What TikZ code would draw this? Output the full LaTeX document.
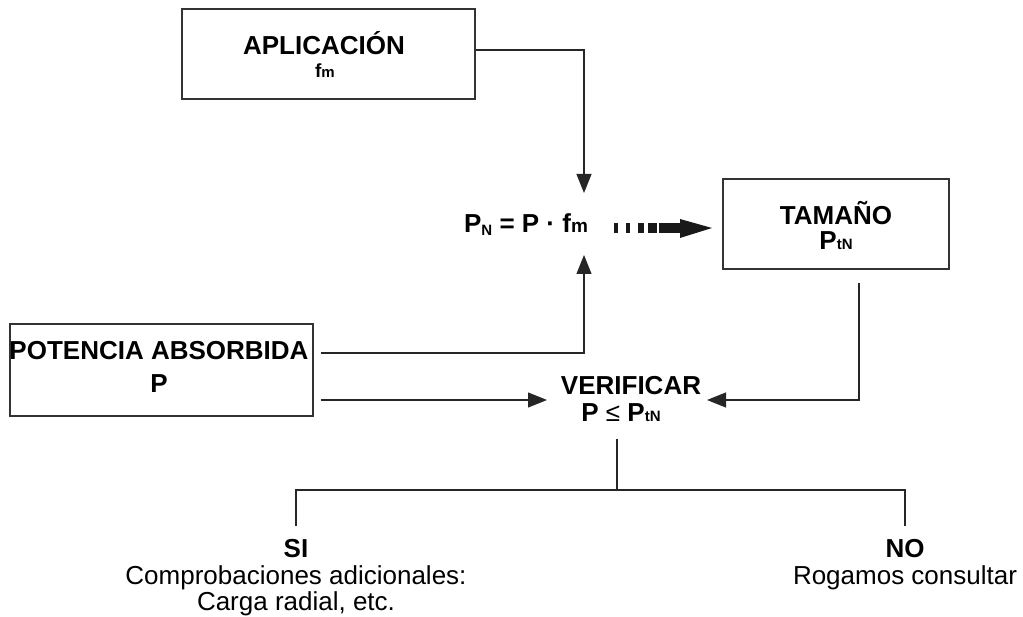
\documentclass[tikz,border=0pt]{standalone}
\usepackage{fontspec}
\setmainfont{Liberation Sans}
\usetikzlibrary{arrows.meta}
\begin{document}
\begin{tikzpicture}[x=1pt,y=-1pt,
  box/.style={draw=black!80, line width=1.3pt, inner sep=0pt},
  conn/.style={draw=black!85, line width=1.1pt},
  tip/.style={-{Triangle[length=19pt,width=15pt]}},
  lbl/.style={inner sep=0pt, outer sep=0pt, anchor=base},
  hd/.style={font=\bfseries\fontsize{26}{26}\selectfont},
  tx/.style={font=\fontsize{26}{26}\selectfont},
  bigarrow/.style={fill=black!90, draw=none},
]
\useasboundingbox (0,0) rectangle (1023,617);

% boxes
\node[box, minimum width=293pt, minimum height=90pt] (app) at (328.5,54) {};
\node[box, minimum width=226pt, minimum height=90pt] (tam) at (836,224) {};
\node[box, minimum width=303pt, minimum height=92pt] (pot) at (161.5,370) {};

% box texts
\node[lbl,hd] (appT) at (324,55) {APLICACIÓN};
\node[lbl] (appS) at (325,78) {\bfseries\fontsize{19}{19}\selectfont f\fontsize{15}{15}\selectfont m};
\node[lbl,hd] (tamT) at (836,225) {TAMAÑO};
\node[lbl,hd] (tamS) at (836,250) {P{\fontsize{15}{15}\selectfont tN}};
\node[lbl,hd] (potT) at (159,360) {POTENCIA ABSORBIDA};
\node[lbl,hd] (potS) at (159,393) {P};

% formula
\node[lbl,hd] (form) at (526,233) {P\raisebox{-3pt}{\fontsize{15}{15}\selectfont N} = P · f{\fontsize{19}{19}\selectfont m}};
\coordinate (ftop) at (584,193);
\coordinate (fbot) at (584,255);

% verify
\node[lbl,hd] (ver) at (631,395) {VERIFICAR};
\node[lbl,hd] (cond) at (621,422) {P {\mdseries ≤} P{\fontsize{15}{15}\selectfont tN}};
\coordinate (vl) at (547,400);
\coordinate (vr) at (707,400);

% results
\node[lbl,hd] (si) at (296,557) {SI};
\node[lbl,tx] (siA) at (296,584) {Comprobaciones adicionales:};
\node[lbl,tx] (siB) at (296,610) {Carga radial, etc.};
\node[lbl,hd] (no) at (905,557) {NO};
\node[lbl,tx] (noA) at (905,584) {Rogamos consultar};

% connectors
\draw[conn,tip] ([yshift=4pt]app.east) -| (ftop);
\draw[conn,tip] ([xshift=7pt,yshift=17pt]pot.east) -| (fbot);
\draw[conn,tip] ([xshift=7pt,yshift=-30pt]pot.east) -- (vl);
\draw[conn,tip] ([xshift=23pt,yshift=-13pt]tam.south) |- (vr);

\coordinate (vb) at (617,439);
\coordinate (vj) at (617,490);
\coordinate (sl) at (296,490);
\coordinate (nr) at (905,490);
\draw[conn] (vb) -- (vj);
\draw[conn] ([yshift=13pt]si.north) -- (sl) -- (nr) -- ([yshift=13pt]no.north);

% thick dashed arrow
\fill[bigarrow] (614,223) rectangle (618,233);
\fill[bigarrow] (626,223) rectangle (630,233);
\fill[bigarrow] (638,223) rectangle (644,233);
\fill[bigarrow] (648,223) rectangle (656.5,233);
\fill[bigarrow] (659,223) rectangle (683,233);
\fill[bigarrow] (680,219) -- (712,228) -- (680,238) -- cycle;
\end{tikzpicture}
\end{document}
